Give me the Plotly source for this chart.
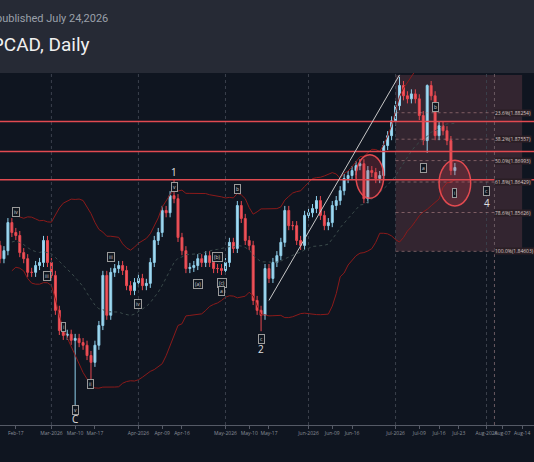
import pandas as pd
import plotly.graph_objects as go

# daily closes (GBPCAD)
closes = [1.8476, 1.8441, 1.8462, 1.8536, 1.8510, 1.8502, 1.8457, 1.8441, 1.8405, 1.8405, 1.8423, 1.8431, 1.8489, 1.8431,
          1.8397, 1.8305, 1.8252, 1.8239, 1.8242, 1.8226, 1.8231, 1.8220, 1.8213, 1.8186, 1.8168, 1.8213, 1.8265, 1.8397,
          1.8292, 1.8405, 1.8415, 1.8423, 1.8410, 1.8370, 1.8357, 1.8378,
          1.8389, 1.8370, 1.8376, 1.8431, 1.8489, 1.8510, 1.8568, 1.8562, 1.8607, 1.8599, 1.8497, 1.8462, 1.8415, 1.8418,
          1.8423, 1.8441, 1.8431, 1.8449, 1.8431, 1.8415, 1.8415, 1.8410,
          1.8431, 1.8484, 1.8468, 1.8581, 1.8547, 1.8489, 1.8476, 1.8331, 1.8305, 1.8292, 1.8415, 1.8389, 1.8431, 1.8449,
          1.8484, 1.8568, 1.8528, 1.8528, 1.8489, 1.8476, 1.8555,
          1.8562, 1.8573, 1.8594, 1.8555, 1.8528, 1.8536, 1.8581, 1.8594, 1.8620, 1.8652, 1.8660, 1.8673, 1.8686, 1.8691,
          1.8599, 1.8673, 1.8668, 1.8652, 1.8660, 1.8739, 1.8765, 1.8804,
          1.8844, 1.8897, 1.8870, 1.8862, 1.8875, 1.8862, 1.8818, 1.8752, 1.8897, 1.8870, 1.8765, 1.8791, 1.8778, 1.8752,
          1.8673, 1.8681]
first_open = 1.8490
wick = 0.0012
# long wicks that stand out
spike_dates = ["2026-03-10", "2026-03-16", "2026-04-14", "2026-05-14", "2026-07-02", "2026-07-13"]
spike_lows = [1.8030, 1.8120, None, 1.8250, None, 1.8720]
spike_highs = [None, None, 1.8650, None, 1.8920, 1.8900]

dates = pd.bdate_range("2026-02-10", periods=len(closes))
opens = [first_open] + closes[:-1]
highs = [max(o, c) + wick for o, c in zip(opens, closes)]
lows = [min(o, c) - wick for o, c in zip(opens, closes)]
for d, lo, hi in zip(spike_dates, spike_lows, spike_highs):
    i = list(dates).index(pd.Timestamp(d))
    if lo is not None:
        lows[i] = lo
    if hi is not None:
        highs[i] = hi

# key horizontal levels and fib retracement
red_levels = [1.8802, 1.8723, 1.8649]
fib_names = ["23.6%", "38.2%", "50.0%", "61.8%", "78.6%", "100.0%"]
fib_prices = [1.88254, 1.87557, 1.86993, 1.86429, 1.85626, 1.84603]

tick_dates = ["2026-02-10", "2026-02-17", "2026-03-02", "2026-03-10", "2026-03-17", "2026-04-01", "2026-04-09",
              "2026-04-16", "2026-05-01", "2026-05-11", "2026-05-18", "2026-06-01", "2026-06-09", "2026-06-16",
              "2026-07-01", "2026-07-09", "2026-07-16", "2026-07-23", "2026-08-03", "2026-08-07", "2026-08-14"]
tick_text = ["Feb-10", "Feb-17", "Mar-2026", "Mar-10", "Mar-17", "Apr-2026", "Apr-09", "Apr-16", "May-2026",
             "May-10", "May-17", "Jun-2026", "Jun-09", "Jun-16", "Jul-2026", "Jul-09", "Jul-16", "Jul-23",
             "Aug-2026", "Aug-07", "Aug-14"]

s = pd.Series(closes, index=dates)
mid = s.rolling(20, min_periods=5).mean()
sd = s.rolling(20, min_periods=5).std()

fig = go.Figure()
fig.add_trace(go.Scatter(x=dates, y=mid + 2 * sd, mode="lines", line=dict(color="#8b1a1a", width=1), hoverinfo="skip"))
fig.add_trace(go.Scatter(x=dates, y=mid - 2 * sd, mode="lines", line=dict(color="#8b1a1a", width=1), hoverinfo="skip"))
fig.add_trace(go.Scatter(x=dates, y=mid, mode="lines", line=dict(color="#3a4a4a", width=1, dash="dot"), hoverinfo="skip"))
fig.add_trace(go.Candlestick(x=dates, open=opens, high=highs, low=lows, close=closes,
                             increasing=dict(line=dict(color="#8fd0ec", width=1), fillcolor="#a8dcf2"),
                             decreasing=dict(line=dict(color="#e8474f", width=1), fillcolor="#ef5a60"),
                             whiskerwidth=0))

for m in ["2026-03-02", "2026-04-01", "2026-05-01", "2026-06-01", "2026-07-01", "2026-08-03"]:
    fig.add_vline(x=m, line=dict(color="#3b404c", width=1, dash="dot"))

# fib box
fig.add_shape(type="rect", x0="2026-07-01", x1="2026-08-14", y0=fib_prices[-1], y1=1.8925,
              fillcolor="rgba(120,70,80,0.35)", line=dict(width=0), layer="below")
fig.add_vline(x="2026-08-05", line=dict(color="#6a5a60", width=1, dash="dot"))
for n, p in zip(fib_names, fib_prices):
    fig.add_shape(type="line", x0="2026-07-01", x1="2026-08-14", y0=p, y1=p,
                  line=dict(color="rgba(200,150,150,0.5)", width=1, dash="dot"))
    fig.add_annotation(x="2026-08-05", y=p, text=f"{n}({p:.5f})", showarrow=False, xanchor="left",
                       font=dict(size=5, color="#d8c8c8"), bgcolor="#2a1e24", borderpad=0)
for p in red_levels:
    fig.add_hline(y=p, line=dict(color="#e24a50", width=1.5))

# trend line and circles
fig.add_shape(type="line", x0="2026-05-18", y0=1.8331, x1="2026-07-02", y1=1.8925, line=dict(color="#c8c8c8", width=1))
fig.add_shape(type="circle", x0="2026-06-17", x1="2026-06-26", y0=1.8600, y1=1.8715,
              line=dict(color="#e24a50", width=1.5), fillcolor="rgba(200,60,70,0.25)")
fig.add_shape(type="circle", x0="2026-07-16", x1="2026-07-28", y0=1.8580, y1=1.8700,
              line=dict(color="#e24a50", width=1.5), fillcolor="rgba(200,60,70,0.25)")

labels = [("2026-02-17", 1.8565, "iv"), ("2026-02-27", 1.8395, "iii"), ("2026-03-05", 1.8262, "i"),
          ("2026-03-10", 1.8043, "v"), ("2026-03-16", 1.8110, "ii"), ("2026-03-23", 1.8445, "iii"),
          ("2026-04-01", 1.8322, "iv"), ("2026-04-14", 1.8630, "v"), ("2026-04-22", 1.8375, "(a)"),
          ("2026-04-29", 1.8445, "(b)"), ("2026-04-30", 1.8378, "(c)"), ("2026-04-30", 1.8355, "a"),
          ("2026-05-06", 1.8625, "b"), ("2026-05-14", 1.8230, "c"), ("2026-07-10", 1.8680, "a"),
          ("2026-07-15", 1.8840, "b"), ("2026-07-22", 1.8615, "i"), ("2026-08-01", 1.8620, "c")]
for d, p, t in labels:
    fig.add_annotation(x=d, y=p, text=t, showarrow=False, font=dict(size=5, color="#d0d0d0"),
                       bordercolor="#9a9a9a", borderwidth=1, borderpad=1, bgcolor="#10161f")
for d, p, t in [("2026-03-10", 1.8020, "C"), ("2026-04-14", 1.8668, "1"), ("2026-05-14", 1.8203, "2"),
                ("2026-08-01", 1.8588, "4")]:
    fig.add_annotation(x=d, y=p, text=t, showarrow=False, font=dict(size=10, color="#e0e0e0"))

# header
fig.add_shape(type="rect", xref="paper", yref="paper", x0=0, x1=1, y0=1, y1=1.21, fillcolor="#262a35",
              line=dict(width=0))
fig.add_annotation(xref="paper", yref="paper", x=-0.012, y=1.178, text="published July 24,2026", showarrow=False,
                   xanchor="left", font=dict(size=11, color="#9aa0aa", family="Roboto"))
fig.add_annotation(xref="paper", yref="paper", x=-0.065, y=1.118, text="GBPCAD, Daily", showarrow=False,
                   xanchor="left", font=dict(size=19, color="#f0f0f0", family="Roboto"))

fig.update_layout(
    width=534, height=462, margin=dict(l=0, r=0, t=73, b=37),
    paper_bgcolor="#0f1520", plot_bgcolor="#0f1520", showlegend=False,
    xaxis=dict(range=[pd.Timestamp("2026-02-11"), pd.Timestamp("2026-08-19")], rangeslider=dict(visible=False),
               rangebreaks=[dict(bounds=["sat", "mon"])], tickvals=tick_dates, ticktext=tick_text, tickangle=0,
               tickfont=dict(size=5, color="#8a8f99"), showgrid=False, showline=True, linecolor="#555a66",
               ticks="outside", tickcolor="#555a66", ticklen=3, zeroline=False),
    yaxis=dict(range=[1.8003, 1.8930], visible=False),
)
fig.write_html("out.html", config={"displayModeBar": False}, post_script="document.body.style.margin='0';")
